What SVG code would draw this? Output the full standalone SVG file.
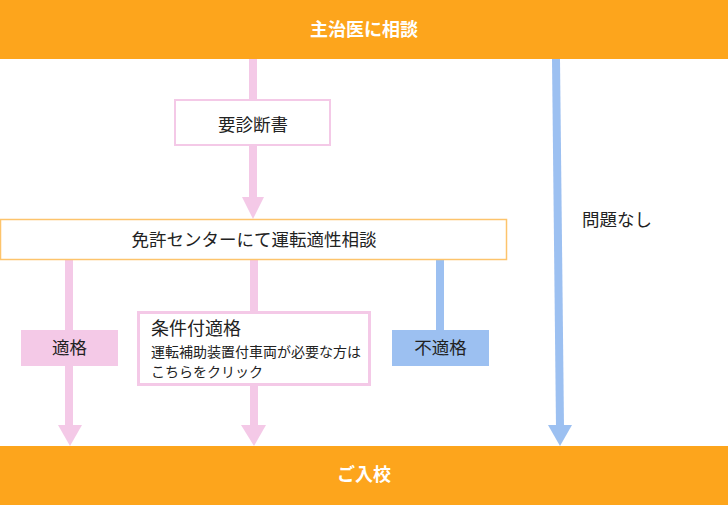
<svg xmlns="http://www.w3.org/2000/svg" width="728" height="505" viewBox="0 0 728 505">
<style>
text{font-family:"Noto Sans CJK JP","Noto Sans",sans-serif;}
.w{fill:#fff;font-size:18px;font-weight:bold;text-anchor:middle;}
.t{fill:#222;font-size:17.5px;}
.s{fill:#222;font-size:14px;}
.c{text-anchor:middle;}
.pk{stroke:#F4C9E7;stroke-width:8;fill:none;}
.bl{stroke:#9CC0F1;stroke-width:8;fill:none;}
</style>
<rect width="728" height="505" fill="#fff"/>
<g id="connectors">
<line class="pk" x1="253" y1="59" x2="253" y2="100"/>
<line class="pk" x1="253" y1="145" x2="253" y2="200"/>
<polygon points="242,197 264,197 253,219" fill="#F4C9E7"/>
<line class="bl" x1="556" y1="59" x2="560" y2="427"/>
<polygon points="548,425 572,425 560,446" fill="#9CC0F1"/>
<line class="pk" x1="69" y1="260" x2="69" y2="428"/>
<polygon points="58,425 82,425 70,446" fill="#F4C9E7"/>
<line class="pk" x1="254" y1="260" x2="254" y2="428"/>
<polygon points="241,425 266,425 254,446" fill="#F4C9E7"/>
<line class="bl" x1="440" y1="260" x2="440" y2="331"/>
<text class="t" x="582" y="226">問題なし</text>
</g>
<g id="top">
<rect x="0" y="0" width="728" height="59" fill="#FDA51C"/>
<text class="w" x="364" y="36">主治医に相談</text>
</g>
<g id="shindan">
<rect x="175" y="100" width="155" height="45" fill="#fff" stroke="#F4C9E7" stroke-width="2"/>
<text class="t c" x="253" y="131">要診断書</text>
</g>
<g id="center">
<rect x="0.5" y="219.5" width="506" height="40" fill="#fff" stroke="#FDC46C" stroke-width="1.5"/>
<text class="t c" x="254" y="246">免許センターにて運転適性相談</text>
</g>
<g id="tekikaku">
<rect x="21" y="330" width="97" height="36" fill="#F4C9E7"/>
<text class="t c" x="69.5" y="354">適格</text>
</g>
<g id="jouken">
<rect x="138.5" y="312.5" width="231" height="72" fill="#fff" stroke="#F4C9E7" stroke-width="3"/>
<text class="t" x="151" y="335" style="font-size:18px">条件付適格</text>
<text class="s" x="151" y="356.5">運転補助装置付車両が必要な方は</text>
<text class="s" x="151" y="376.5">こちらをクリック</text>
</g>
<g id="futekikaku">
<rect x="392" y="330" width="97" height="36" fill="#9CC0F1"/>
<text class="t c" x="440.5" y="354">不適格</text>
</g>
<g id="bottom">
<rect x="0" y="446" width="728" height="59" fill="#FDA51C"/>
<text class="w" x="364" y="481">ご入校</text>
</g>
</svg>
